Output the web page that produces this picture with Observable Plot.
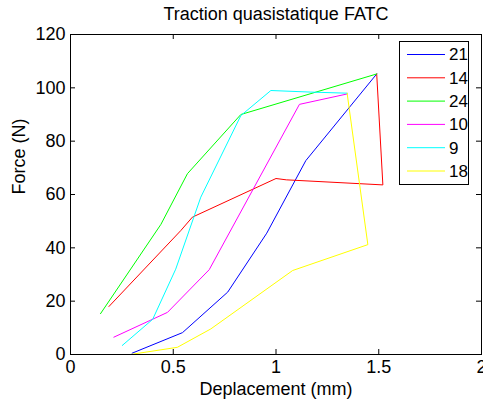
<!DOCTYPE html>
<html>
<head>
<meta charset="utf-8">
<script src="https://cdn.jsdelivr.net/npm/d3@7"></script>
<script src="https://cdn.jsdelivr.net/npm/@observablehq/plot@0.6"></script>
<style>
  body { margin: 0; background: #fff; }
  #wrap { position: relative; width: 483px; height: 402px; font-family: "Liberation Sans", Arial, sans-serif; }
  #legend { position: absolute; left: 399px; top: 41px; }
</style>
</head>
<body>
<div id="wrap"></div>
<script>
const title = "Traction quasistatique FATC";
const xLabel = "Deplacement (mm)";
const yLabel = "Force (N)";
const xTicks = [0, 0.5, 1, 1.5, 2];
const yTicks = [0, 20, 40, 60, 80, 100, 120];
const xTickLabels = ["0", "0.5", "1", "1.5", "2"];

const seriesNames = ["21", "14", "24", "10", "9", "18"];
const seriesColors = ["#0000ff", "#ff0000", "#00ff00", "#ff00ff", "#00ffff", "#ffff00"];

const dep21 = [0.30, 0.545, 0.765, 0.955, 1.145, 1.49];
const force21 = [0.5, 8.2, 23.4, 45.5, 72.7, 105.2];
const dep14 = [0.187, 0.537, 0.593, 1.0, 1.05, 1.52, 1.49];
const force14 = [18, 46.5, 51.5, 66, 65.5, 63.6, 105.2];
const dep24 = [0.146, 0.44, 0.569, 0.829, 1.49];
const force24 = [15.3, 48.8, 67.8, 90, 105.2];
const dep10 = [0.211, 0.472, 0.675, 1.114, 1.346];
const force10 = [6.5, 15.8, 31.8, 93.8, 97.7];
const dep9 = [0.252, 0.40, 0.512, 0.634, 0.829, 0.975, 1.17, 1.346];
const force9 = [3.4, 13.2, 32, 59, 89.6, 99, 98.4, 98];
const dep18 = [0.30, 0.52, 0.683, 1.081, 1.447, 1.346];
const force18 = [0.1, 2.7, 9.6, 31.5, 41.2, 98];

const xs = [dep21, dep14, dep24, dep10, dep9, dep18];
const ys = [force21, force14, force24, force10, force9, force18];
const data = [];
seriesNames.forEach((name, i) => {
  xs[i].forEach((x, j) => data.push({series: name, color: seriesColors[i], dep: x, force: ys[i][j]}));
});

const W = 483, H = 402;
const mL = 70, mR = 2, mT = 34, mB = 48;
const fw = W - mL - mR, fh = H - mT - mB;
const tickLen = 5;
const font = "18px";

const plot = Plot.plot({
  width: W, height: H,
  marginLeft: mL, marginRight: mR, marginTop: mT, marginBottom: mB,
  style: {fontFamily: "'Liberation Sans', Arial, sans-serif", fontSize: font, background: "#fff", color: "#000"},
  x: {domain: [0, 2], ticks: xTicks, tickFormat: (d) => xTickLabels[xTicks.indexOf(d)] ?? d, label: null},
  y: {domain: [0, 120], ticks: yTicks, label: null},
  color: {type: "identity"},
  marks: [
    Plot.axisX(xTicks, {tickSize: 0, tickPadding: 6, fontSize: font, tickFormat: (d) => xTickLabels[xTicks.indexOf(d)]}),
    Plot.axisY(yTicks, {tickSize: 0, tickPadding: 5, fontSize: font}),
    Plot.line(data, {x: "dep", y: "force", z: "series", stroke: "color", strokeWidth: 1, strokeLinejoin: "miter"}),
    Plot.tickX(xTicks, {x: (d) => d, insetTop: fh - tickLen, stroke: "#000"}),
    Plot.tickX(xTicks, {x: (d) => d, insetBottom: fh - tickLen, stroke: "#000"}),
    Plot.tickY(yTicks, {y: (d) => d, insetRight: fw - tickLen, stroke: "#000"}),
    Plot.tickY(yTicks, {y: (d) => d, insetLeft: fw - tickLen, stroke: "#000"}),
    Plot.frame({stroke: "#000"}),
    Plot.text([title], {frameAnchor: "top", lineAnchor: "middle", dy: -20, fontSize: font, fill: "#000"}),
    Plot.text([xLabel], {frameAnchor: "bottom", lineAnchor: "middle", dy: 35, fontSize: font, fill: "#000"}),
    Plot.text([yLabel], {frameAnchor: "left", lineAnchor: "middle", rotate: -90, dx: -51, fontSize: font, fill: "#000"})
  ]
});
document.getElementById("wrap").appendChild(plot);

// Legend
const lw = 70, lh = 144, rowH = 23.3, firstY = 13.5;
const leg = d3.select("#wrap").append("svg")
  .attr("id", "legend").attr("width", lw).attr("height", lh);
leg.append("rect").attr("x", 0.5).attr("y", 0.5).attr("width", lw - 1).attr("height", lh - 1)
  .attr("fill", "#fff").attr("stroke", "#000");
seriesNames.forEach((name, i) => {
  const y = firstY + i * rowH;
  leg.append("line").attr("x1", 8).attr("x2", 46).attr("y1", y).attr("y2", y)
    .attr("stroke", seriesColors[i]).attr("stroke-width", 1);
  leg.append("text").attr("x", 50).attr("y", y).attr("dy", "0.35em")
    .attr("font-size", "17px").attr("font-family", "'Liberation Sans', Arial, sans-serif")
    .attr("fill", "#000").text(name);
});
</script>
</body>
</html>
